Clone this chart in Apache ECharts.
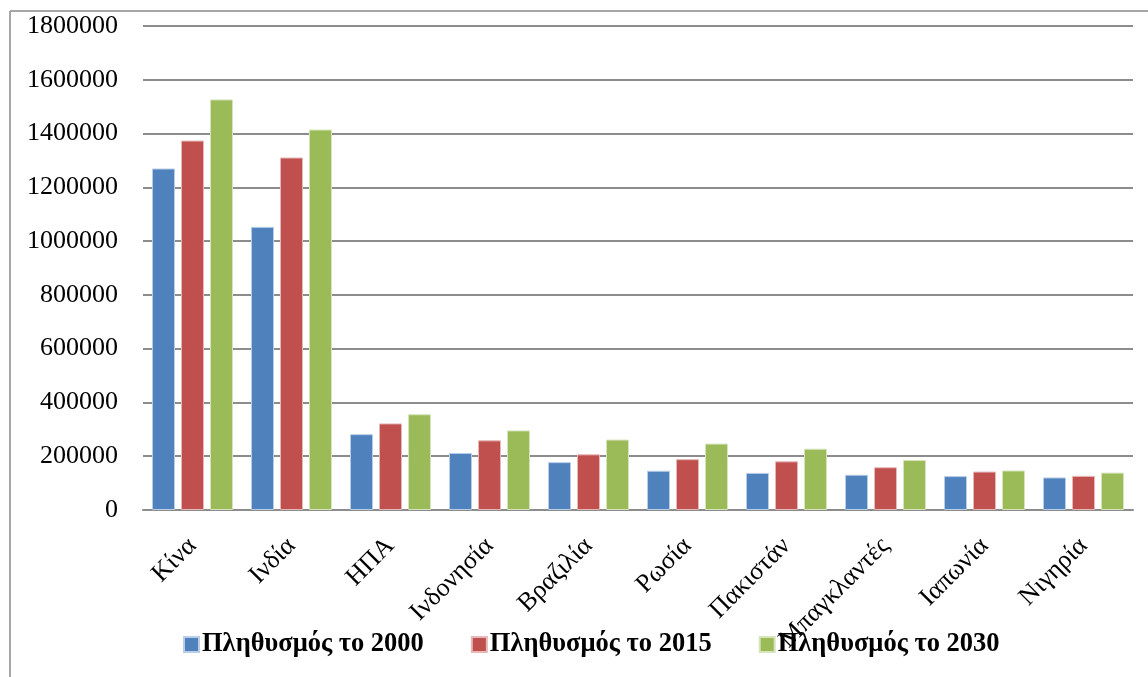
<!DOCTYPE html>
<html>
<head>
<meta charset="utf-8">
<script src="https://cdn.jsdelivr.net/npm/echarts@6/dist/echarts.min.js"></script>
<style>
  html, body { margin: 0; padding: 0; background: #fff; }
  #chart { width: 1148px; height: 677px; }
</style>
</head>
<body>
<div id="chart"></div>
<script>
// Countries on the category axis
const countries = ['Κίνα', 'Ινδία', 'ΗΠΑ', 'Ινδονησία', 'Βραζιλία', 'Ρωσία', 'Πακιστάν', 'Μπαγκλαντές', 'Ιαπωνία', 'Νιγηρία'];

// Population (thousands) per year
const pop2000 = [1270000, 1053000, 282000, 212000, 178000, 146000, 138000, 131000, 126000, 121000];
const pop2015 = [1374000, 1311000, 322000, 259000, 207000, 189000, 181000, 159000, 143000, 127000];
const pop2030 = [1527000, 1415000, 356000, 296000, 262000, 247000, 228000, 186000, 147000, 139000];

const seriesNames = ['Πληθυσμός το 2000', 'Πληθυσμός το 2015', 'Πληθυσμός το 2030'];
const colors = ['#4F81BD', '#C0504D', '#9BBB59'];
const edgeColors = ['#b9cde6', '#e6b9b8', '#d7e4bd'];

const yMin = 0, yMax = 1800000, yStep = 200000;

const chart = echarts.init(document.getElementById('chart'));
const font = '"Liberation Serif", "Times New Roman", serif';

function bar(i, data) {
  return {
    name: seriesNames[i],
    type: 'bar',
    data: data,
    barWidth: 23,
    barGap: '26%',
    itemStyle: { color: colors[i], borderColor: edgeColors[i], borderWidth: 1 }
  };
}

chart.setOption({
  animation: false,
  color: colors,
  textStyle: { fontFamily: font },
  grid: { left: 143, right: 15, top: 26, bottom: 167, containLabel: false },
  legend: {
    left: 183,
    top: 631,
    padding: 0,
    itemWidth: 15,
    itemHeight: 15,
    itemGap: 47,
    icon: 'rect',
    textStyle: { fontFamily: font, fontSize: 26.5, fontWeight: 'bold', color: '#000', padding: [0, 0, 0, -2] },
    data: seriesNames
  },
  xAxis: {
    type: 'category',
    data: countries,
    axisLine: { lineStyle: { color: '#8c8c8c', width: 2 } },
    axisTick: { show: false },
    axisLabel: { rotate: 45, fontSize: 26, color: '#000', margin: 32, fontFamily: font, interval: 0 }
  },
  yAxis: {
    type: 'value',
    min: yMin,
    max: yMax,
    interval: yStep,
    axisLine: { show: false },
    axisTick: { show: false },
    splitLine: { lineStyle: { color: '#8c8c8c', width: 2 } },
    axisLabel: { fontSize: 26, color: '#000', margin: 25, fontFamily: font, formatter: v => String(v) }
  },
  graphic: [
    { type: 'line', shape: { x1: 10, y1: 11, x2: 1148, y2: 11 }, style: { stroke: '#a6a6a6', lineWidth: 2 } },
    { type: 'line', shape: { x1: 10, y1: 11, x2: 10, y2: 677 }, style: { stroke: '#a6a6a6', lineWidth: 2 } }
  ],
  series: [bar(0, pop2000), bar(1, pop2015), bar(2, pop2030)]
});
</script>
</body>
</html>
